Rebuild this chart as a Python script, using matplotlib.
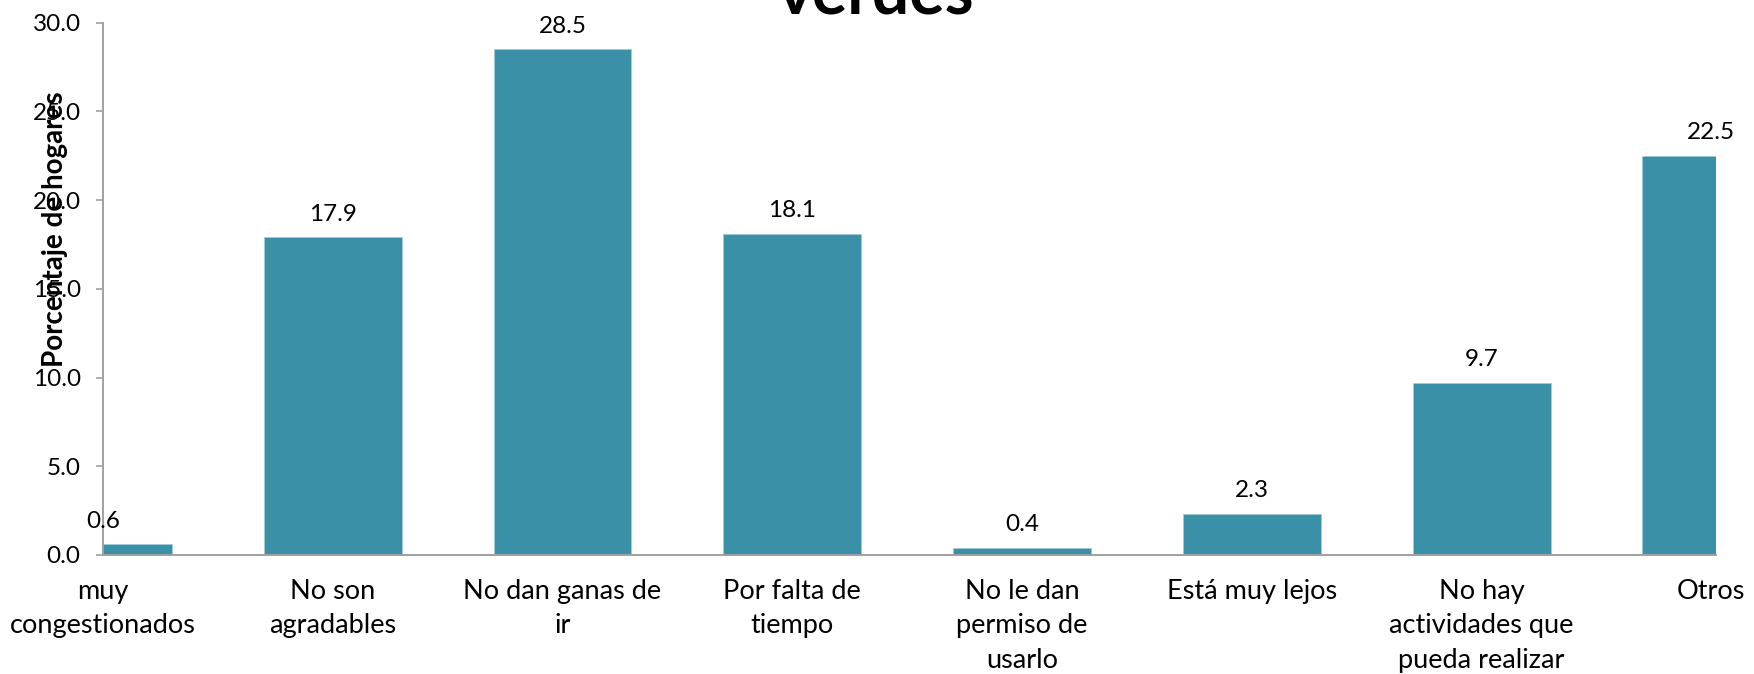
import numpy as np
import matplotlib
matplotlib.use('Agg')
import matplotlib.pyplot as plt

categories = ['muy\ncongestionados', 'No son\nagradables', 'No dan ganas de\nir',
              'Por falta de\ntiempo', 'No le dan\npermiso de\nusarlo', 'Está muy lejos',
              'No hay\nactividades que\npueda realizar', 'Otros']
values = [0.6, 17.9, 28.5, 18.1, 0.4, 2.3, 9.7, 22.5]
y_ticks = [0.0, 5.0, 10.0, 15.0, 20.0, 25.0, 30.0]

plt.rcParams['font.family'] = ['Lato', 'DejaVu Sans']

bar_color = '#3A91A7'
axis_gray = '#A0A0A0'

fig = plt.figure(figsize=(17.54, 6.74), dpi=100)
ax = fig.add_axes([0.0587, 0.1766, 0.9196, 0.7898])

x = np.arange(len(categories))
bars = ax.bar(x, values, width=0.6, color=bar_color, edgecolor='#9fcbd6', linewidth=0.6)

ax.set_xlim(0, 7.02)
ax.set_ylim(0, 30)
ax.set_yticks(y_ticks)
ax.set_yticklabels([f'{t:.1f}' for t in y_ticks], fontsize=17.5)
ax.set_xticks(x)
ax.set_xticklabels(categories, fontsize=19.5, linespacing=1.48)

ax.tick_params(axis='x', length=0, pad=17)
ax.tick_params(axis='y', length=5, width=1.2, color=axis_gray, pad=11)

for side in ['top', 'right']:
    ax.spines[side].set_visible(False)
for side in ['left', 'bottom']:
    ax.spines[side].set_color(axis_gray)
    ax.spines[side].set_linewidth(1.4)

for xi, v in zip(x, values):
    ax.annotate(f'{v:.1f}', (xi, v), xytext=(0, 12), textcoords='offset points',
                ha='center', va='baseline', fontsize=17.5, annotation_clip=False)

fig.text(0.0314, 0.660, 'Porcentaje de hogares', rotation=90, ha='center', va='center',
         fontsize=20, fontweight='bold')
fig.text(0.4995, 0.9807, 'verdes', ha='center', va='baseline', fontsize=47.5, fontweight='bold')

fig.savefig('out.png', dpi=100)
